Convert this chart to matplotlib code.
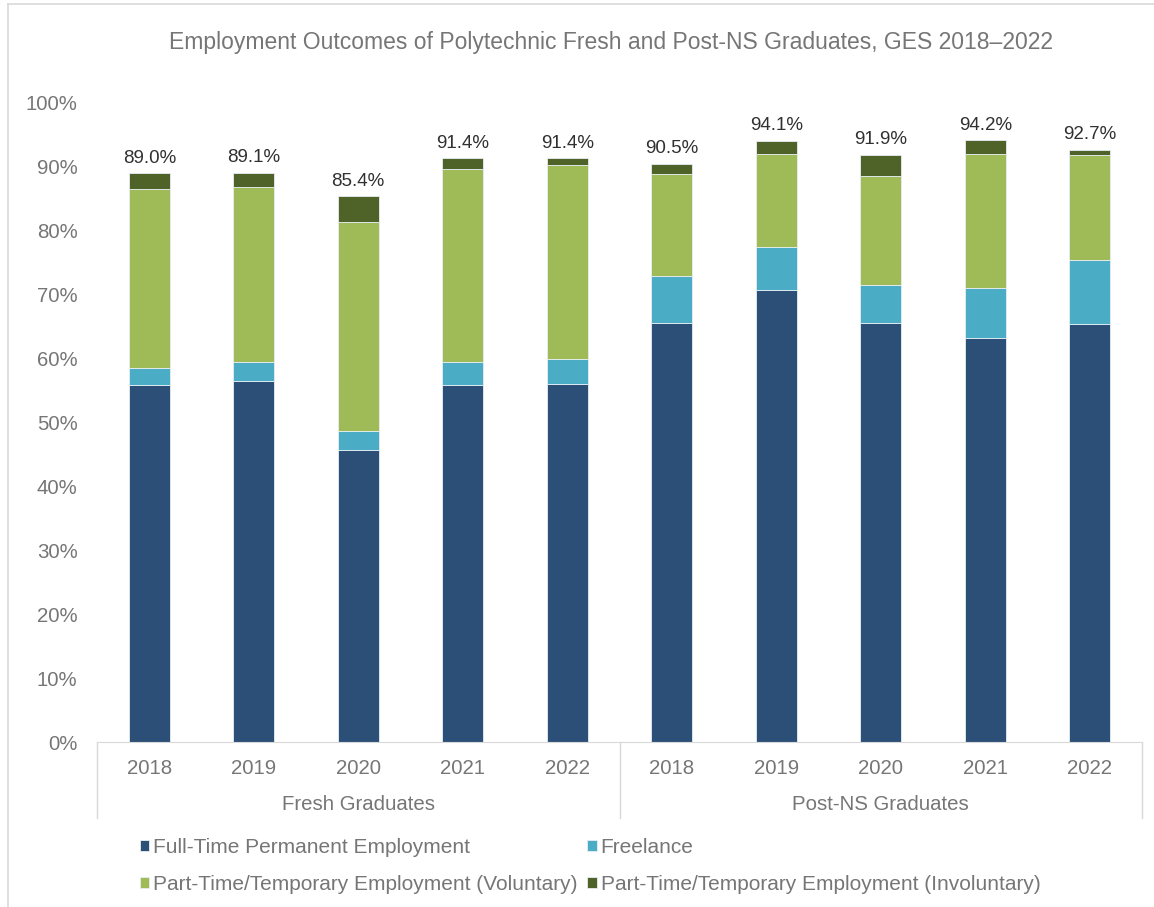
import matplotlib.pyplot as plt
import numpy as np
from matplotlib.lines import Line2D

plt.rcParams['font.family'] = ['Liberation Sans', 'DejaVu Sans']

years = ['2018', '2019', '2020', '2021', '2022'] * 2
groups = ['Fresh Graduates', 'Post-NS Graduates']
series = ['Full-Time Permanent Employment', 'Freelance',
          'Part-Time/Temporary Employment (Voluntary)',
          'Part-Time/Temporary Employment (Involuntary)']

full_time = [55.8, 56.5, 45.7, 55.9, 56.1, 65.6, 70.7, 65.5, 63.3, 65.4]
freelance = [2.7, 3.0, 2.9, 3.5, 3.9, 7.4, 6.7, 6.0, 7.8, 10.1]
pt_vol = [28.0, 27.3, 32.8, 30.3, 30.3, 15.9, 14.6, 17.1, 20.9, 16.3]
pt_invol = [2.5, 2.3, 4.0, 1.7, 1.1, 1.6, 2.1, 3.3, 2.2, 0.9]
totals = [89.0, 89.1, 85.4, 91.4, 91.4, 90.5, 94.1, 91.9, 94.2, 92.7]

colors = ['#2C4F77', '#4BACC6', '#9FBB58', '#4F6228']
grey = '#767676'

W, H = 1154, 907
fig = plt.figure(figsize=(W / 100, H / 100), dpi=100)
ax = fig.add_axes([97 / W, 1 - 742 / H, 1045 / W, (742 - 103) / H])

x = np.arange(len(years))
bottom = np.zeros(len(years))
for vals, col, name in zip([full_time, freelance, pt_vol, pt_invol], colors, series):
    ax.bar(x, vals, width=0.39, bottom=bottom, color=col, edgecolor='#E8EEF4',
           linewidth=0.6, label=name)
    bottom += np.array(vals)

for xi, top, t in zip(x, bottom, totals):
    ax.text(xi, top + 1.0, f'{t:.1f}%', ha='center', va='bottom', fontsize=13.5,
            color='#303030')

ax.set_xlim(-0.5, len(years) - 0.5)
ax.set_ylim(0, 100)
ax.set_yticks(np.arange(0, 101, 10))
ax.set_yticklabels([f'{v}%' for v in range(0, 101, 10)])
ax.set_xticks(x)
ax.set_xticklabels(years)
ax.tick_params(axis='both', length=0, labelsize=14.7, colors=grey)
ax.tick_params(axis='x', pad=12)
ax.tick_params(axis='y', pad=14)
for s in ['top', 'right', 'left']:
    ax.spines[s].set_visible(False)
ax.spines['bottom'].set_color('#D9D9D9')

trans = ax.get_xaxis_transform()
for xs in [-0.5, 4.5, 9.5]:
    ax.plot([xs, xs], [0, -(818 - 742) / 639], transform=trans, color='#D9D9D9',
            linewidth=1, clip_on=False)
for gi, g in enumerate(groups):
    ax.text(gi * 5 + 2, -(805 - 742) / 639, g, transform=trans, ha='center',
            va='center', fontsize=14.7, color=grey)

fig.text(611 / W, 1 - 42 / H, 'Employment Outcomes of Polytechnic Fresh and Post-NS Graduates, GES 2018\u20132022',
         ha='center', va='center', fontsize=16.5, color=grey)

handles, labels = ax.get_legend_handles_labels()
order = [0, 2, 1, 3]
fig.legend([handles[i] for i in order], [labels[i] for i in order], ncol=2,
           loc='upper left', bbox_to_anchor=(121 / W, 1 - 819 / H), frameon=False,
           fontsize=15, handlelength=0.45, handleheight=0.45, handletextpad=0.2,
           columnspacing=0.45, labelspacing=0.88, labelcolor=grey)

# chart area border (left and top edges visible)
fig.add_artist(Line2D([8 / W, 8 / W], [0, 1 - 4 / H], transform=fig.transFigure,
                      color='#D9D9D9', linewidth=1.2))
fig.add_artist(Line2D([8 / W, 1], [1 - 4 / H, 1 - 4 / H], transform=fig.transFigure,
                      color='#D9D9D9', linewidth=1.2))

fig.savefig('out.png', dpi=100)
